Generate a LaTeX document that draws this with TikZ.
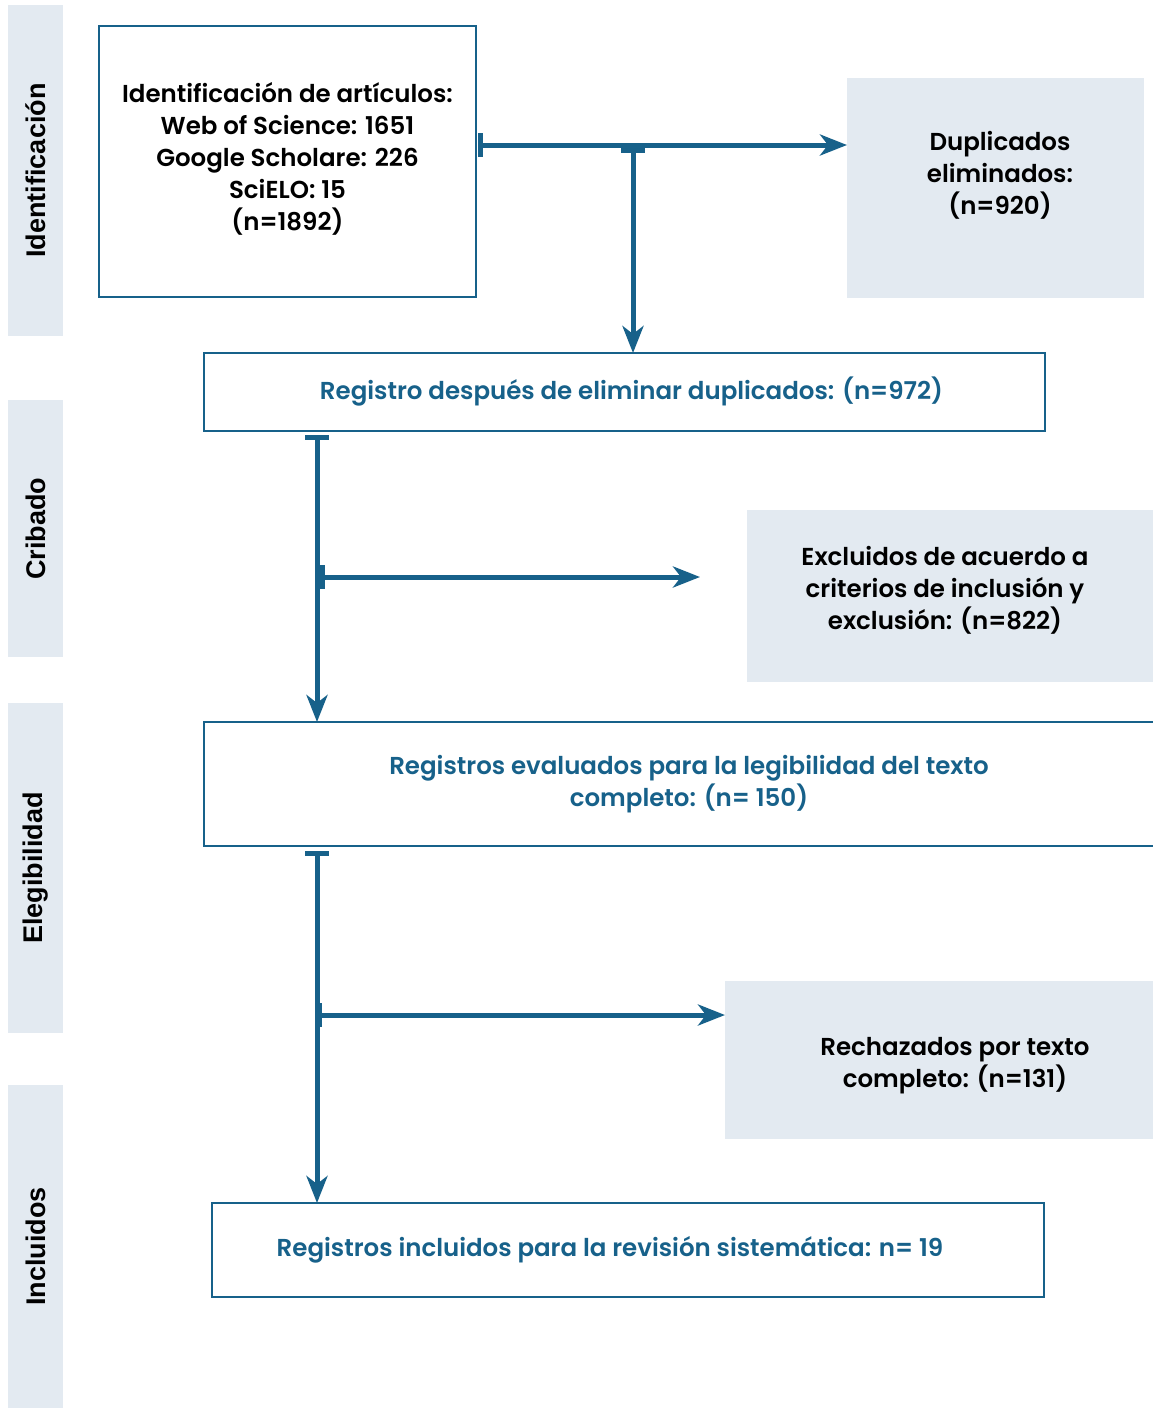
\documentclass[tikz,border=0pt]{standalone}
\usepackage{fontspec}
\setmainfont{Poppins}[BoldFont={Poppins SemiBold}]
\newfontfamily\sidefont{Liberation Sans}
\usetikzlibrary{arrows.meta}
\definecolor{flowblue}{HTML}{17618A}
\definecolor{panelgray}{HTML}{E3EAF1}

\begin{document}
\begin{tikzpicture}[x=1pt,y=-1pt,
  boxtext/.style={font=\bfseries\fontsize{24.5}{32}\selectfont, align=center, inner sep=0pt},
  box/.style={boxtext, draw=flowblue, line width=2.5pt, fill=white, outer sep=0pt},
  bluetext/.style={text=flowblue},
  panel/.style={fill=panelgray, inner sep=0pt, outer sep=0pt},
  band/.style={fill=panelgray, inner sep=0pt, outer sep=0pt, rotate=90,
    font=\sidefont\bfseries\fontsize{27}{30}\selectfont},
  flow/.style={draw=flowblue, line width=5pt,
    {Bar[width=24pt]}-{Stealth[length=27pt,width=21pt,inset=8pt]}},
]
\useasboundingbox (0,0) rectangle (1153,1409);

% stage bands on the left
\node[band, minimum width=331, minimum height=55] (bIdent) at (35.5,170.5) {Identificación};
\node[band, minimum width=257, minimum height=55] (bCrib)  at (35.5,528.5) {Cribado};
\node[band, minimum width=330, minimum height=55] (bEleg)  at (35.5,868)   {Elegibilidad};
\node[band, minimum width=323, minimum height=55] (bIncl)  at (35.5,1246.5) {Incluidos};

% main boxes
\node[box, minimum width=377, minimum height=271] (ident) at (287.5,161.5) {};
\node[boxtext] (identText) at (287.5,159)
  {Identificación de artículos:\\Web of Science: 1651\\Google Scholare: 226\\SciELO: 15\\(n=1892)};
\node[box, minimum width=841, minimum height=78] (reg) at (624.5,392) {};
\node[boxtext, bluetext] (regText) at (631.5,392)
  {Registro después de eliminar duplicados: (n=972)};
\node[box, bluetext, minimum width=970, minimum height=124] (eval) at (689,784)
  {Registros evaluados para la legibilidad del texto\\completo: (n= 150)};
\node[box, minimum width=832, minimum height=94] (incl) at (628,1250) {};
\node[boxtext, bluetext] (inclText) at (610,1250)
  {Registros incluidos para la revisión sistemática: n= 19};

% side panels
\node[panel, minimum width=297, minimum height=220] (dup) at (995.5,188) {};
\node[boxtext] (dupText) at (1000,175) {Duplicados\\eliminados:\\(n=920)};
\node[panel, minimum width=406, minimum height=172] (excl) at (950,596) {};
\node[boxtext] (exclText) at (945,590)
  {Excluidos de acuerdo a\\criterios de inclusión y\\exclusión: (n=822)};
\node[panel, minimum width=460, minimum height=158] (rech) at (955,1060) {};
\node[boxtext] (rechText) at (955,1066) {Rechazados por texto\\completo: (n=131)};

% junction points
\coordinate (j1) at (478,145);
\coordinate (t1) at (633,148);
\coordinate (s1) at (317,435);
\coordinate (b1) at (320,577);
\coordinate (e1) at (700,577);
\coordinate (s2) at (317,851);
\coordinate (b2) at (317,1015);

% connectors
\draw[flow] (j1) -- (dup.west |- j1);
\draw[flow] (t1) -- (t1 |- reg.north);
\draw[flow] (s1) -- (s1 |- eval.north);
\draw[flow] (b1) -- (e1);
\draw[flow] (s2) -- (s2 |- incl.north);
\draw[flow] (b2) -- (rech.west |- b2);
\end{tikzpicture}
\end{document}
